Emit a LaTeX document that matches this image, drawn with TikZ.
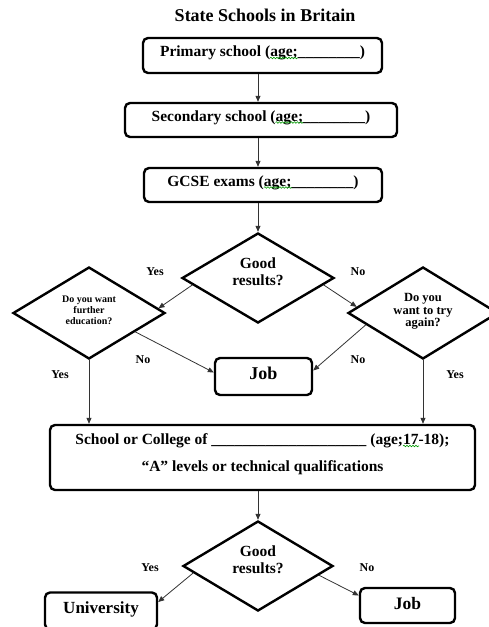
\documentclass[tikz,border=0pt]{standalone}
\usepackage{fontspec}
\setmainfont{Liberation Serif}
\usetikzlibrary{shapes.geometric,arrows.meta,calc,decorations.pathmorphing}

\begin{document}
\begin{tikzpicture}[x=1pt,y=-1pt,
    box/.style={draw,line width=2.4pt,rounded corners=5pt,inner sep=0pt,text height=11pt,text depth=9pt,font=\fontsize{15.5}{18}\selectfont\bfseries},
    choice/.style={draw,diamond,aspect=1.65,line width=2.4pt,inner sep=0pt,align=center},
    lbl/.style={font=\fontsize{12}{14}\selectfont\bfseries},
    flow/.style={-{Triangle[length=6pt,width=5pt]},line width=0.8pt,black!80},
    squig/.style={green!60!black,decorate,decoration={snake,amplitude=0.8pt,segment length=3pt},line width=0.6pt}]
          \useasboundingbox (0,0) rectangle (489,627);
          \node[font=\fontsize{18}{20}\selectfont\bfseries] (title) at (265,15) {State Schools in Britain};
          \node[box,minimum width=239pt,minimum height=35pt] (primary) at (262.5,55.5) {Primary school (age;\_\_\_\_\_\_\_\_)};
          \node[box,minimum width=272pt,minimum height=34pt] (secondary) at (261,120) {Secondary school (age;\_\_\_\_\_\_\_\_)};
          \node[box,minimum width=238pt,minimum height=34pt] (gcse) at (263,185) {GCSE exams (age;\_\_\_\_\_\_\_\_)};
          \node[choice,minimum width=152pt,minimum height=90pt,text depth=12.3pt,font=\fontsize{15.5}{17}\selectfont\bfseries] (good) at (258,278) {Good\\results?};
          \node[choice,minimum width=152pt,minimum height=92pt,text depth=4.8pt,font=\fontsize{10}{11}\selectfont\bfseries] (further) at (89,313) {Do you want\\further\\education?};
          \node[choice,minimum width=150pt,minimum height=92pt,text depth=6pt,font=\fontsize{12.5}{12.5}\selectfont\bfseries] (again) at (423,313) {Do you\\want to try\\again?};
          \node[box,minimum width=97pt,minimum height=37pt,text height=12.4pt,text depth=7.4pt,font=\fontsize{18}{20}\selectfont\bfseries] (job) at (263.5,376.5) {Job};
          \node[box,minimum width=425pt,minimum height=65pt,align=center,text height=,text depth=,font=\fontsize{15.5}{27}\selectfont\bfseries] (college) at (262.5,457.5) {School or College of \_\_\_\_\_\_\_\_\_\_\_\_\_\_\_\_\_\_\_\_ (age;17-18);\\“A” levels or technical qualifications\rule[-10pt]{0pt}{10pt}};
          \node[choice,minimum width=150pt,minimum height=90pt,text depth=12.3pt,font=\fontsize{15.5}{17}\selectfont\bfseries] (good2) at (258,566) {Good\\results?};
          \node[box,minimum width=112pt,minimum height=37pt,text height=12pt,text depth=7.7pt,font=\fontsize{17}{19}\selectfont\bfseries] (uni) at (101,611) {University};
          \node[box,minimum width=95pt,minimum height=35pt,text height=12pt,text depth=5pt,font=\fontsize{17.5}{19}\selectfont\bfseries] (job2) at (407.5,605.5) {Job};
          \node[lbl] (yes1) at (155,272) {Yes};
          \node[lbl] (no1) at (358,272) {No};
          \node[lbl] (no2) at (143,360) {No};
          \node[lbl] (no3) at (358,360) {No};
          \node[lbl] (yes2) at (60,375) {Yes};
          \node[lbl] (yes3) at (455,375) {Yes};
          \node[lbl] (yes4) at (150,568) {Yes};
          \node[lbl] (no4) at (367,568) {No};
          \draw[flow] (primary.south -| good.north) -- (secondary.north -| good.north);
          \draw[flow] (secondary.south -| good.north) -- (gcse.north -| good.north);
          \draw[flow] (gcse.south -| good.north) -- (good.north);
          \draw[flow] ($(good.west)!0.15!(good.south)$) -- ($(further.east)!0.1!(further.north)$);
          \draw[flow] ($(good.east)!0.15!(good.south)$) -- ($(again.west)!0.13!(again.north)$);
          \draw[flow] ($(further.east)!0.4!(further.south)$) -- ($(job.west)+(0,-4)$);
          \draw[flow] ($(again.west)!0.25!(again.south)$) -- ($(job.east)+(0,-6)$);
          \draw[flow] (further.south) -- (further.south |- college.north);
          \draw[flow] (again.south) -- (again.south |- college.north);
          \draw[flow] (college.south -| good2.north) -- (good2.north);
          \draw[flow] ($(good2.west)!0.15!(good2.south)$) -- ($(uni.east)+(0,-9)$);
          \draw[flow] ($(good2.east)!0.2!(good2.south)$) -- ($(job2.west)+(0,-10)$);
          \draw[squig] (270,58) -- (297.5,58);
          \draw[squig] (275.5,122.5) -- (303,122.5);
          \draw[squig] (264,187.5) -- (291.5,187.5);
          \draw[squig] (403,446) -- (419,446);
        \end{tikzpicture}
\end{document}
